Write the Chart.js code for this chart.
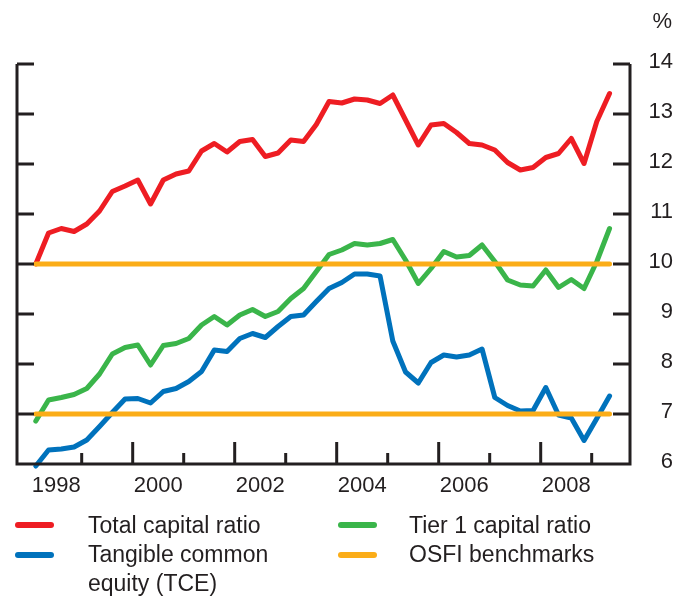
<!DOCTYPE html>
<html>
<head>
<meta charset="utf-8">
<script src="https://cdn.jsdelivr.net/npm/chart.js@4.4.1/dist/chart.umd.min.js"></script>
<style>
  body { margin: 0; background: #fff; }
  #wrap { position: relative; width: 676px; height: 600px; }
  #wrap canvas { position: absolute; left: 0; top: 0; }
  .legend-item { position: absolute; font: 23px "Liberation Sans", Arial, sans-serif; line-height: 29px; color: #231f20; }
  .swatch { position: absolute; width: 39px; height: 6px; border-radius: 3px; }
</style>
</head>
<body>
<div id="wrap">
  <canvas id="myChart" width="676" height="600"></canvas>
  <span class="swatch" style="left:15px;top:522px;background:#ee1d23"></span>
  <div class="legend-item" style="left:88px;top:511px">Total capital ratio</div>
  <span class="swatch" style="left:338px;top:522px;background:#3ab54a"></span>
  <div class="legend-item" style="left:409px;top:511px">Tier 1 capital ratio</div>
  <span class="swatch" style="left:15px;top:552px;background:#0072bc"></span>
  <div class="legend-item" style="left:88px;top:540px">Tangible common<br>equity (TCE)</div>
  <span class="swatch" style="left:338px;top:552px;background:#fbad18"></span>
  <div class="legend-item" style="left:409px;top:540px">OSFI benchmarks</div>
</div>
<script>
const quarters = [
  "1998Q1", "1998Q2", "1998Q3", "1998Q4", "1999Q1", "1999Q2", "1999Q3", "1999Q4",
  "2000Q1", "2000Q2", "2000Q3", "2000Q4", "2001Q1", "2001Q2", "2001Q3", "2001Q4",
  "2002Q1", "2002Q2", "2002Q3", "2002Q4", "2003Q1", "2003Q2", "2003Q3", "2003Q4",
  "2004Q1", "2004Q2", "2004Q3", "2004Q4", "2005Q1", "2005Q2", "2005Q3", "2005Q4",
  "2006Q1", "2006Q2", "2006Q3", "2006Q4", "2007Q1", "2007Q2", "2007Q3", "2007Q4",
  "2008Q1", "2008Q2", "2008Q3", "2008Q4", "2009Q1", "2009Q2"
];

const totalCapital = [
  10.0, 10.62, 10.71, 10.65, 10.8, 11.06, 11.45, 11.56, 11.68, 11.2, 11.68, 11.8,
  11.86, 12.26, 12.41, 12.24, 12.45, 12.49, 12.15, 12.22, 12.48, 12.45, 12.79, 13.25,
  13.22, 13.3, 13.28, 13.21, 13.38, 12.88, 12.38, 12.78, 12.81, 12.63, 12.41, 12.38,
  12.28, 12.03, 11.88, 11.93, 12.13, 12.21, 12.51, 12.01, 12.85, 13.41
];

const tier1 = [
  6.86, 7.28, 7.33, 7.39, 7.51, 7.8, 8.2, 8.33, 8.38, 7.98, 8.37, 8.41,
  8.51, 8.78, 8.95, 8.78, 8.98, 9.09, 8.95, 9.05, 9.31, 9.51, 9.85, 10.19,
  10.28, 10.41, 10.38, 10.41, 10.49, 10.08, 9.61, 9.91, 10.25, 10.14, 10.17, 10.38,
  10.05, 9.68, 9.58, 9.56, 9.88, 9.53, 9.69, 9.51, 10.05, 10.71
];

const tce = [
  5.96, 6.28, 6.3, 6.34, 6.48, 6.75, 7.03, 7.3, 7.31, 7.22, 7.45, 7.51,
  7.65, 7.85, 8.28, 8.25, 8.51, 8.61, 8.53, 8.75, 8.95, 8.98, 9.25, 9.51,
  9.63, 9.8, 9.8, 9.76, 8.46, 7.84, 7.62, 8.03, 8.18, 8.14, 8.18, 8.3,
  7.33, 7.17, 7.06, 7.07, 7.53, 6.98, 6.92, 6.47, 6.91, 7.36
];

const benchmarks = [10, 7];

const yTicks = [6, 7, 8, 9, 10, 11, 12, 13, 14];
const tickYears = [1999, 2000, 2001, 2002, 2003, 2004, 2005, 2006, 2007, 2008, 2009];
const yearLabels = ["1998", "2000", "2002", "2004", "2006", "2008"];

const ink = "#231f20";
const font = '22px "Liberation Sans", Arial, sans-serif';

// quarter label -> decimal year on the x scale
const qx = quarters.map(q => +q.slice(0, 4) + (+q.slice(5) - 1) / 4 + 0.1);
const pts = vals => vals.map((v, i) => ({ x: qx[i], y: v }));
const flat = v => [{ x: qx[0], y: v }, { x: qx[qx.length - 1], y: v }];

const line = (data, color) => ({
  data: data,
  borderColor: color,
  borderWidth: 5,
  pointRadius: 0,
  tension: 0,
  borderJoinStyle: "round",
  borderCapStyle: "round",
  clip: false,
});

const axes = {
  id: "axes",
  afterDatasetsDraw(chart) {
    const { ctx, chartArea: a, scales: { x, y } } = chart;
    ctx.save();
    ctx.strokeStyle = ink;
    ctx.lineWidth = 3;
    ctx.beginPath();
    ctx.moveTo(a.left, a.top);
    ctx.lineTo(a.left, a.bottom);
    ctx.lineTo(a.right, a.bottom);
    ctx.lineTo(a.right, a.top);
    yTicks.forEach(v => {
      const py = y.getPixelForValue(v);
      ctx.moveTo(a.left, py);
      ctx.lineTo(a.left + 17, py);
      ctx.moveTo(a.right - 17, py);
      ctx.lineTo(a.right, py);
    });
    tickYears.forEach(yr => {
      const px = x.getPixelForValue(yr);
      ctx.moveTo(px, a.bottom);
      ctx.lineTo(px, a.bottom - (yr % 2 ? 11 : 22));
    });
    ctx.stroke();

    ctx.fillStyle = ink;
    ctx.font = font;
    ctx.textAlign = "right";
    yTicks.forEach(v => ctx.fillText(String(v), 673, y.getPixelForValue(v) + 3.5));
    ctx.fillText("%", 672, 28);
    ctx.textAlign = "center";
    yearLabels.forEach(l => ctx.fillText(l, x.getPixelForValue(+l + 0.5), 491.5));
    ctx.restore();
  },
};

new Chart(document.getElementById("myChart"), {
  type: "line",
  data: {
    datasets: [
      line(flat(benchmarks[0]), "#fbad18"),
      line(flat(benchmarks[1]), "#fbad18"),
      line(pts(totalCapital), "#ee1d23"),
      line(pts(tier1), "#3ab54a"),
      line(pts(tce), "#0072bc"),
    ],
  },
  options: {
    responsive: false,
    animation: false,
    layout: { padding: { left: 17, right: 46, top: 64, bottom: 136 } },
    plugins: { legend: { display: false }, tooltip: { enabled: false } },
    scales: {
      x: { type: "linear", display: false, min: 1997.7314, max: 2009.751 },
      y: { type: "linear", display: false, min: 6, max: 14 },
    },
  },
  plugins: [axes],
});
</script>
</body>
</html>
